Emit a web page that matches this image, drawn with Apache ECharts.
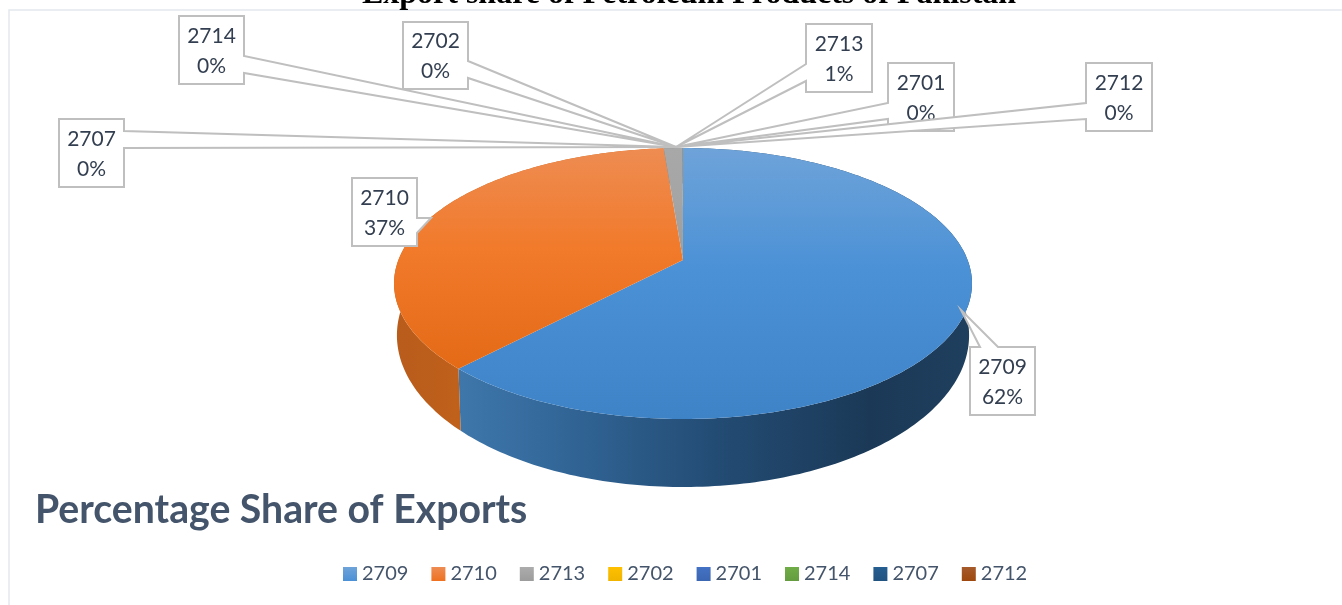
<!DOCTYPE html>
<html>
<head>
<meta charset="utf-8">
<title>Export share of Petroleum Products of Pakistan</title>
<script src="https://cdn.jsdelivr.net/npm/echarts@6/dist/echarts.min.js"></script>
<style>
html, body { margin: 0; padding: 0; background: #fff; overflow: hidden; }
#chart { width: 1342px; height: 605px; }
</style>
</head>
<body>
<div id="chart"></div>
<script>
// data, clockwise from the top of the pie
const hsCodes = ['2709', '2710', '2713', '2702', '2701', '2714', '2707', '2712'];
const shares = [62.1, 36.6, 1.25, 0.004, 0.004, 0.004, 0.004, 0.004];
const chartTitle = 'Export share of Petroleum Products of Pakistan';
const chartSubtitle = 'Percentage Share of Exports';

// slice colours
const topColors = [
    ['#6ea3d9', '#4b91d6', '#3f83c7'],
    ['#ee8c52', '#f17a2b', '#e46a16'],
    ['#a8a8a8', '#a5a5a5', '#9c9c9c'],
    ['#ffc000', '#ffc000', '#e6ad00'],
    ['#4472c4', '#4472c4', '#3b66b2'],
    ['#70ad47', '#70ad47', '#649c3f'],
    ['#255e91', '#255e91', '#205380'],
    ['#9e480e', '#9e480e', '#8c400c']
];
// wall shading, left to right across each slice's wall
const wallStops = [
    [[0, '#3f77ab'], [0.18, '#33689a'], [0.5, '#234c74'], [0.8, '#1b3957'], [1, '#1f3f5e']],
    [[0, '#b85c1c'], [0.5, '#c8651a'], [1, '#c9641a']],
    [[0, '#777777'], [1, '#777777']],
    [[0, '#b38600'], [1, '#b38600']],
    [[0, '#2f5089'], [1, '#2f5089']],
    [[0, '#4e7931'], [1, '#4e7931']],
    [[0, '#1a4265'], [1, '#1a4265']],
    [[0, '#6e320a'], [1, '#6e320a']]
];
const legendColors = [
    ['#6ea3d9', '#4b91d6'], ['#ee8c52', '#ee7120'], ['#acacac', '#9c9c9c'], ['#ffc000', '#f0b400'],
    ['#4472c4', '#3b66b2'], ['#70ad47', '#649c3f'], ['#255e91', '#205380'], ['#a65a2b', '#9e480e']
];

// pie projection: the 3D pie is a circle seen in perspective
const apexX = 683, apexY = 260;
const persp = 0.1734, scaleX = 284.6, scaleY = 131.4;
const floorY = 309, floorScaleX = 0.99, floorScaleY = 1.12;

// callout layout: box, the side the leader leaves from, its two roots, and its tip
const callouts = [
    { box: [970, 347, 65, 68], side: 't', a: 980, b: 998, tip: [961, 310] },
    { box: [352, 178, 65, 68], side: 'r', a: 218, b: 233, tip: [431, 218] },
    { box: [806, 24, 66, 68], side: 'l', a: 64, b: 81, tip: [676, 147] },
    { box: [403, 22, 65, 67], side: 'r', a: 61, b: 78, tip: [676, 147] },
    { box: [888, 63, 66, 68], side: 'l', a: 103, b: 119, tip: [676, 147] },
    { box: [179, 16, 65, 68], side: 'r', a: 56, b: 73, tip: [676, 147] },
    { box: [59, 119, 65, 68], side: 'r', a: 131, b: 148, tip: [676, 147] },
    { box: [1086, 63, 66, 68], side: 'l', a: 103, b: 119, tip: [676, 147] }
];

const total = shares.reduce(function (s, v) { return s + v; }, 0);

// start and end angle of each slice, in radians clockwise from the top
function sliceAngles(index) {
    let before = 0;
    for (let i = 0; i < index; i++) before += shares[i];
    return [before / total * Math.PI * 2, (before + shares[index]) / total * Math.PI * 2];
}

function topPoint(t) {
    const u = Math.sin(t), v = Math.cos(t), d = 1 + persp * v;
    return [apexX + scaleX * u / d, apexY - scaleY * v / d];
}

function floorPoint(t) {
    const u = Math.sin(t), v = Math.cos(t), d = 1 + persp * v;
    return [apexX + floorScaleX * scaleX * u / d, floorY - floorScaleY * scaleY * v / d];
}

function arcPoints(from, to, fn) {
    const steps = Math.max(1, Math.ceil((to - from) / (Math.PI / 180)));
    const pts = [];
    for (let i = 0; i <= steps; i++) pts.push(fn(from + (to - from) * i / steps));
    return pts;
}

function gradient(x2, y2, stops) {
    return new echarts.graphic.LinearGradient(0, 0, x2, y2, stops.map(function (s) {
        return { offset: s[0], color: s[1] };
    }));
}

function calloutShape(c) {
    const x = c.box[0], y = c.box[1], w = c.box[2], h = c.box[3];
    if (c.side === 't') return [[x, y], [c.a, y], c.tip, [c.b, y], [x + w, y], [x + w, y + h], [x, y + h]];
    if (c.side === 'r') return [[x, y], [x + w, y], [x + w, c.a], c.tip, [x + w, c.b], [x + w, y + h], [x, y + h]];
    return [[x, y], [x + w, y], [x + w, y + h], [x, y + h], [x, c.b], c.tip, [x, c.a]];
}

// one custom series per code: wall, top face, callout
function renderSlice(params, api) {
    const index = params.seriesIndex;
    const value = api.value(0);
    const angles = sliceAngles(index);
    const topArc = arcPoints(angles[0], angles[1], topPoint);
    const floorArc = arcPoints(angles[0], angles[1], floorPoint).reverse();
    const stops = topColors[index];
    const c = callouts[index];
    const cx = c.box[0] + c.box[2] / 2;
    const cy = c.box[1] + c.box[3] / 2;
    const labelStyle = { fontFamily: 'Lato', fontSize: 21, fill: '#333f50', align: 'center', verticalAlign: 'middle' };
    return {
        type: 'group',
        children: [
            {
                type: 'polygon',
                z2: 1,
                shape: { points: topArc.concat(floorArc) },
                style: { fill: gradient(1, 0, wallStops[index]) }
            },
            {
                type: 'polygon',
                z2: 2,
                shape: { points: [[apexX, apexY]].concat(topArc) },
                style: { fill: gradient(0, 1, [[0, stops[0]], [0.45, stops[1]], [1, stops[2]]]) }
            },
            {
                type: 'polygon',
                z2: 10 + index,
                shape: { points: calloutShape(c) },
                style: { fill: '#fff', stroke: '#bfbfbf', lineWidth: 2 }
            },
            {
                type: 'text',
                z2: 10 + index,
                style: Object.assign({ x: cx, y: cy - 14, text: hsCodes[index] }, labelStyle)
            },
            {
                type: 'text',
                z2: 10 + index,
                style: Object.assign({ x: cx, y: cy + 16, text: Math.round(value / total * 100) + '%' }, labelStyle)
            }
        ]
    };
}

const myChart = echarts.init(document.getElementById('chart'));

const option = {
    animation: false,
    backgroundColor: '#fff',
    legend: {
        left: 338,
        top: 559,
        itemWidth: 14,
        itemHeight: 14,
        itemGap: 23,
        itemStyle: { borderWidth: 0 },
        selectedMode: false,
        textStyle: { fontFamily: 'Lato', fontSize: 20, color: '#44546a' },
        data: hsCodes.map(function (code, i) {
            return { name: code, icon: 'rect', itemStyle: { color: gradient(0, 1, [[0, legendColors[i][0]], [1, legendColors[i][1]]]) } };
        })
    },
    graphic: [
        {
            type: 'rect',
            silent: true,
            shape: { x: 9, y: 10, width: 1500, height: 800 },
            style: { fill: 'none', stroke: '#e3e7ee', lineWidth: 1.5 }
        },
        {
            type: 'text',
            silent: true,
            style: {
                x: 689, y: 11, text: chartTitle,
                fontFamily: 'Liberation Serif', fontWeight: 'bold', fontSize: 32,
                fill: '#000', align: 'center', verticalAlign: 'bottom'
            }
        },
        {
            type: 'text',
            silent: true,
            style: {
                x: 35, y: 510, text: chartSubtitle,
                fontFamily: 'Lato', fontWeight: 'bold', fontSize: 39.2,
                fill: '#44546a', align: 'left', verticalAlign: 'middle'
            }
        }
    ],
    series: hsCodes.map(function (code, i) {
        return {
            name: code,
            type: 'custom',
            coordinateSystem: 'none',
            silent: true,
            renderItem: renderSlice,
            itemStyle: { color: topColors[i][1] },
            data: [[shares[i]]]
        };
    })
};

myChart.setOption(option);
</script>
</body>
</html>
